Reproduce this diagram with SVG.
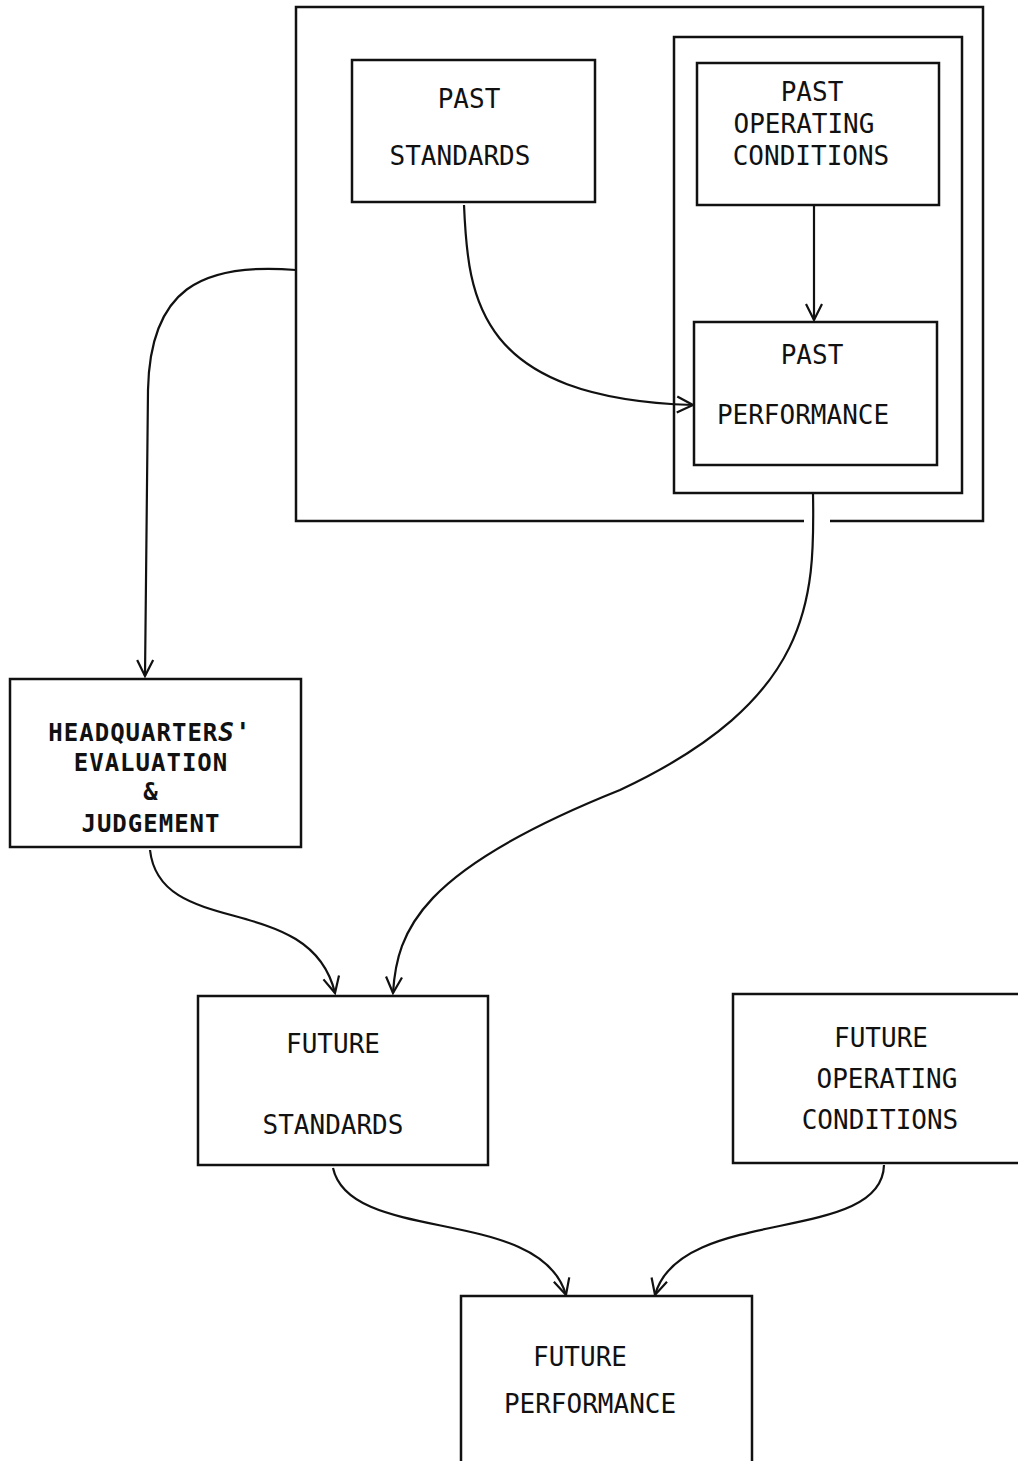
<svg xmlns="http://www.w3.org/2000/svg" width="1018" height="1461" viewBox="0 0 1018 1461">
<style>
.box{fill:none;stroke:#111;stroke-width:2.5}
.con{fill:none;stroke:#111;stroke-width:2.2;marker-end:url(#v)}
text{font-family:"DejaVu Sans Mono","Liberation Mono",monospace;font-size:26px;fill:#111;text-anchor:middle}
.b{font-weight:bold;font-size:24px;letter-spacing:1px}
</style>
<defs>
<marker id="v" viewBox="0 0 20 20" refX="18" refY="10" markerWidth="20" markerHeight="20" markerUnits="userSpaceOnUse" orient="auto">
<path d="M2,2 L18,10 L2,18" fill="none" stroke="#111" stroke-width="2.2"/>
</marker>
</defs>
<rect width="1018" height="1461" fill="#fff"/>
<g id="outer-frame">
<path class="box" d="M804,521 L296,521 L296,7 L983,7 L983,521 L830,521"/>
</g>
<g id="inner-frame">
<rect class="box" x="674" y="37" width="288" height="456"/>
</g>
<g id="past-standards">
<rect class="box" x="352" y="60" width="243" height="142"/>
<text x="469" y="108">PAST</text>
<text x="460" y="165">STANDARDS</text>
</g>
<g id="past-operating-conditions">
<rect class="box" x="697" y="63" width="242" height="142"/>
<text x="812" y="101">PAST</text>
<text x="804" y="133">OPERATING</text>
<text x="811" y="165">CONDITIONS</text>
</g>
<g id="past-performance">
<rect class="box" x="694" y="322" width="243" height="143"/>
<text x="812" y="364">PAST</text>
<text x="803" y="424">PERFORMANCE</text>
</g>
<g id="headquarters-evaluation">
<rect class="box" x="10" y="679" width="291" height="168"/>
<text class="b" x="150" y="741">HEADQUARTER<tspan font-style="italic" font-size="26">S'</tspan></text>
<text class="b" x="151" y="771">EVALUATION</text>
<text class="b" x="151" y="800" font-size="18">&amp;</text>
<text class="b" x="151" y="832">JUDGEMENT</text>
</g>
<g id="future-standards">
<rect class="box" x="198" y="996" width="290" height="169"/>
<text x="333" y="1053">FUTURE</text>
<text x="333" y="1134">STANDARDS</text>
</g>
<g id="future-operating-conditions">
<path class="box" d="M1018,994 L733,994 L733,1163 L1018,1163"/>
<text x="881" y="1047">FUTURE</text>
<text x="887" y="1088">OPERATING</text>
<text x="880" y="1129">CONDITIONS</text>
</g>
<g id="future-performance">
<path class="box" d="M461,1461 L461,1296 L752,1296 L752,1461"/>
<text x="580" y="1366">FUTURE</text>
<text x="590" y="1413">PERFORMANCE</text>
</g>
<g id="connectors">
<path class="con" d="M296,270 C200,262 150,290 148,390 L145,676"/>
<path class="con" d="M464,205 C468,300 478,398 693,405"/>
<path class="con" d="M814,205 L814,320"/>
<path class="con" d="M813,493 C815,600 812,700 620,790 C420,870 397,930 393,993"/>
<path class="con" d="M150,850 C160,940 310,890 335,993"/>
<path class="con" d="M333,1168 C350,1245 540,1205 566,1295"/>
<path class="con" d="M884,1165 C882,1245 680,1205 655,1295"/>
</g>
</svg>
